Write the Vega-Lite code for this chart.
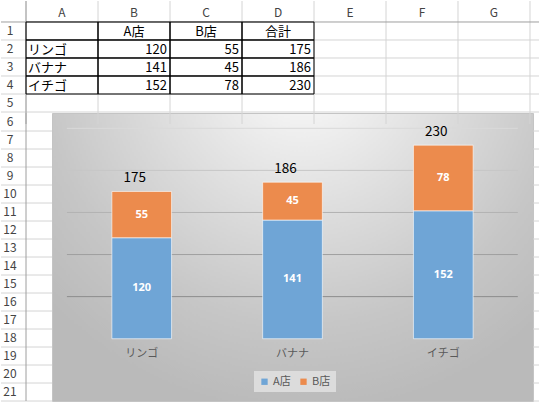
{
  "$schema": "https://vega.github.io/schema/vega-lite/v6.json",
  "padding": 0,
  "spacing": 0,
  "bounds": "flush",
  "datasets": {
    "sales": [
      {"fruit": "リンゴ", "store": "A店", "v": 120},
      {"fruit": "リンゴ", "store": "B店", "v": 55},
      {"fruit": "バナナ", "store": "A店", "v": 141},
      {"fruit": "バナナ", "store": "B店", "v": 45},
      {"fruit": "イチゴ", "store": "A店", "v": 152},
      {"fruit": "イチゴ", "store": "B店", "v": 78}
    ],
    "grid": [{"v": 50}, {"v": 100}, {"v": 150}, {"v": 200}, {"v": 250}],
    "cells": [
      {"row": 1, "col": "A", "text": ""},
      {"row": 1, "col": "B", "text": "A店"},
      {"row": 1, "col": "C", "text": "B店"},
      {"row": 1, "col": "D", "text": "合計"},
      {"row": 2, "col": "A", "text": "リンゴ"},
      {"row": 2, "col": "B", "text": "120"},
      {"row": 2, "col": "C", "text": "55"},
      {"row": 2, "col": "D", "text": "175"},
      {"row": 3, "col": "A", "text": "バナナ"},
      {"row": 3, "col": "B", "text": "141"},
      {"row": 3, "col": "C", "text": "45"},
      {"row": 3, "col": "D", "text": "186"},
      {"row": 4, "col": "A", "text": "イチゴ"},
      {"row": 4, "col": "B", "text": "152"},
      {"row": 4, "col": "C", "text": "78"},
      {"row": 4, "col": "D", "text": "230"}
    ],
    "cols": [
      {"col": "A"}, {"col": "B"}, {"col": "C"}, {"col": "D"},
      {"col": "E"}, {"col": "F"}, {"col": "G"}
    ],
    "rowsTop": [{"row": 0}, {"row": 1}, {"row": 2}, {"row": 3}, {"row": 4}, {"row": 5}],
    "rowsMid": [
      {"row": 6}, {"row": 7}, {"row": 8}, {"row": 9}, {"row": 10}, {"row": 11},
      {"row": 12}, {"row": 13}, {"row": 14}, {"row": 15}, {"row": 16}, {"row": 17},
      {"row": 18}, {"row": 19}, {"row": 20}, {"row": 21}
    ]
  },
  "vconcat": [
    {
      "width": 539,
      "height": 112,
      "layer": [
        {
          "data": {"name": "cols"},
          "mark": {"type": "rule", "color": "#d4d4d4"},
          "encoding": {
            "x": {
              "field": "col", "type": "nominal", "bandPosition": 0,
              "scale": {"type": "band", "domain": ["A", "B", "C", "D", "E", "F", "G"], "paddingInner": 0, "paddingOuter": 0.24306, "align": 0.714286}
            }
          }
        },
        {
          "data": {"name": "cols"},
          "transform": [{"filter": "datum.col == 'G'"}],
          "mark": {"type": "rule", "color": "#d4d4d4"},
          "encoding": {"x": {"field": "col", "type": "nominal", "bandPosition": 1}}
        },
        {
          "data": {"name": "rowsTop"},
          "transform": [{"filter": "datum.row > 0"}],
          "mark": {"type": "rule", "color": "#d4d4d4"},
          "encoding": {
            "y": {
              "field": "row", "type": "ordinal", "bandPosition": 1,
              "scale": {"type": "band", "domain": [0, 1, 2, 3, 4, 5], "paddingInner": 0, "paddingOuter": 0.1111, "align": 0.75}
            }
          }
        },
        {
          "data": {"name": "rowsTop"},
          "transform": [{"filter": "datum.row == 0"}],
          "mark": {"type": "rule", "color": "#9e9e9e"},
          "encoding": {"y": {"field": "row", "type": "ordinal", "bandPosition": 1}}
        },
        {
          "data": {"name": "cols"},
          "transform": [{"filter": "datum.col == 'A'"}],
          "mark": {"type": "rule", "color": "#9e9e9e"},
          "encoding": {"x": {"field": "col", "type": "nominal", "bandPosition": 0}}
        },
        {
          "data": {"name": "cols"},
          "mark": {"type": "text", "font": "Noto Sans CJK JP", "fontSize": 12, "color": "#444444"},
          "encoding": {
            "x": {"field": "col", "type": "nominal"},
            "y": {"datum": 0, "type": "ordinal"},
            "text": {"field": "col"}
          }
        },
        {
          "data": {"name": "rowsTop"},
          "transform": [{"filter": "datum.row > 0"}],
          "mark": {"type": "text", "font": "Noto Sans CJK JP", "fontSize": 12, "color": "#444444", "dx": -52},
          "encoding": {
            "x": {"datum": "A", "type": "nominal"},
            "y": {"field": "row", "type": "ordinal"},
            "text": {"field": "row"}
          }
        },
        {
          "data": {"name": "cells"},
          "mark": {"type": "rect", "fill": null, "stroke": "#000000", "strokeWidth": 1},
          "encoding": {
            "x": {"field": "col", "type": "nominal"},
            "y": {"field": "row", "type": "ordinal"}
          }
        },
        {
          "data": {"name": "cells"},
          "transform": [{"filter": "datum.row == 1"}],
          "mark": {"type": "text", "font": "Noto Sans CJK JP", "fontSize": 13, "color": "#000000", "dy": 1},
          "encoding": {
            "x": {"field": "col", "type": "nominal"},
            "y": {"field": "row", "type": "ordinal"},
            "text": {"field": "text"}
          }
        },
        {
          "data": {"name": "cells"},
          "transform": [{"filter": "datum.row > 1 && datum.col == 'A'"}],
          "mark": {"type": "text", "font": "Noto Sans CJK JP", "fontSize": 13, "color": "#000000", "align": "left", "dx": 2, "dy": 1},
          "encoding": {
            "x": {"field": "col", "type": "nominal", "bandPosition": 0},
            "y": {"field": "row", "type": "ordinal"},
            "text": {"field": "text"}
          }
        },
        {
          "data": {"name": "cells"},
          "transform": [{"filter": "datum.row > 1 && datum.col != 'A'"}],
          "mark": {"type": "text", "font": "Noto Sans CJK JP", "fontSize": 13, "color": "#000000", "align": "right", "dx": -3, "dy": 1},
          "encoding": {
            "x": {"field": "col", "type": "nominal", "bandPosition": 1},
            "y": {"field": "row", "type": "ordinal"},
            "text": {"field": "text"}
          }
        }
      ]
    },
    {
      "spacing": 0,
      "bounds": "flush",
      "hconcat": [
        {
          "width": 51,
          "height": 288,
          "layer": [
            {
              "data": {"name": "rowsMid"},
              "mark": {"type": "rule", "color": "#d4d4d4"},
              "encoding": {
                "y": {
                  "field": "row", "type": "ordinal", "bandPosition": 1,
                  "scale": {"type": "band", "paddingInner": 0, "paddingOuter": 0}
                }
              }
            },
            {
              "data": {"name": "cols"},
              "transform": [{"filter": "datum.col == 'A'"}],
              "mark": {"type": "rule", "color": "#9e9e9e"},
              "encoding": {
                "x": {
                  "field": "col", "type": "nominal", "bandPosition": 0,
                  "scale": {"type": "band", "domain": ["A"], "paddingInner": 0, "paddingOuter": 0.48077, "align": 1}
                }
              }
            },
            {
              "data": {"name": "rowsMid"},
              "mark": {"type": "text", "font": "Noto Sans CJK JP", "fontSize": 12, "color": "#444444", "dx": -29},
              "encoding": {
                "x": {"datum": "A", "type": "nominal"},
                "y": {"field": "row", "type": "ordinal"},
                "text": {"field": "row"}
              }
            }
          ]
        },
        {
          "width": 481,
          "height": 288,
          "view": {
            "stroke": "#c4c4c4",
            "fill": {
              "gradient": "radial",
              "x1": 0.52, "y1": 0.1, "r1": 0,
              "x2": 0.52, "y2": 0.1, "r2": 0.72,
              "stops": [
                {"offset": 0, "color": "#ffffff"},
                {"offset": 0.2, "color": "#eeeeee"},
                {"offset": 0.5, "color": "#d8d8d8"},
                {"offset": 0.75, "color": "#c6c6c6"},
                {"offset": 1, "color": "#bababa"}
              ]
            }
          },
          "layer": [
            {
              "data": {"name": "grid"},
              "mark": {"type": "rule", "xOffset": -74.8, "x2Offset": 74.5, "strokeWidth": 1},
              "encoding": {
                "x": {"datum": "リンゴ", "type": "nominal"},
                "x2": {"datum": "イチゴ"},
                "y": {"field": "v", "type": "quantitative"},
                "stroke": {
                  "field": "v", "type": "quantitative",
                  "scale": {"range": ["#8c8c8c", "#dadada"]},
                  "legend": null
                }
              }
            },
            {
              "data": {"name": "sales"},
              "mark": {"type": "bar", "stroke": "#ffffff", "strokeOpacity": 0.6, "strokeWidth": 1},
              "encoding": {
                "x": {
                  "field": "fruit", "type": "nominal",
                  "scale": {"type": "band", "domain": ["リンゴ", "バナナ", "イチゴ"], "paddingInner": 0.604, "paddingOuter": 0.397}
                },
                "y": {
                  "field": "v", "type": "quantitative", "stack": "zero",
                  "scale": {"domain": [-74, 268.2], "nice": false, "zero": false}
                },
                "order": {"field": "store", "sort": "ascending"},
                "color": {
                  "field": "store", "type": "nominal",
                  "scale": {"domain": ["A店", "B店"], "range": ["#6fa5d6", "#ec8b4d"]},
                  "legend": {
                    "orient": "none", "legendX": 253, "legendY": 370,
                    "direction": "horizontal", "title": null,
                    "symbolType": "square", "symbolSize": 40, "symbolStrokeWidth": 0,
                    "labelFont": "Noto Sans CJK JP", "labelFontSize": 11, "labelColor": "#595959",
                    "labelOffset": 3, "columnPadding": 7,
                    "fillColor": "#dcdcdc", "padding": 5
                  }
                }
              }
            },
            {
              "data": {"name": "sales"},
              "mark": {"type": "text", "font": "Noto Sans", "fontWeight": "bold", "fontSize": 11, "color": "#ffffff", "baseline": "middle"},
              "encoding": {
                "x": {"field": "fruit", "type": "nominal"},
                "y": {"field": "v", "type": "quantitative", "stack": "zero", "bandPosition": 0.5},
                "detail": {"field": "store"},
                "order": {"field": "store", "sort": "ascending"},
                "text": {"field": "v"}
              }
            },
            {
              "data": {"name": "sales"},
              "transform": [{"aggregate": [{"op": "sum", "field": "v", "as": "total"}], "groupby": ["fruit"]}],
              "mark": {"type": "text", "font": "Noto Sans CJK JP", "fontSize": 13.5, "color": "#000000", "baseline": "alphabetic", "dx": -7, "dy": -9},
              "encoding": {
                "x": {"field": "fruit", "type": "nominal"},
                "y": {"field": "total", "type": "quantitative"},
                "text": {"field": "total"}
              }
            },
            {
              "data": {"name": "sales"},
              "transform": [{"aggregate": [{"op": "sum", "field": "v", "as": "total"}], "groupby": ["fruit"]}],
              "mark": {"type": "text", "font": "Noto Sans CJK JP", "fontSize": 11, "color": "#595959", "baseline": "middle", "dy": 15},
              "encoding": {
                "x": {"field": "fruit", "type": "nominal"},
                "y": {"datum": 0, "type": "quantitative"},
                "text": {"field": "fruit"}
              }
            },
            {
              "mark": {"type": "rule", "color": "#404040", "strokeWidth": 2, "xOffset": -74.8, "x2Offset": 74.5},
              "encoding": {
                "x": {"datum": "リンゴ", "type": "nominal"},
                "x2": {"datum": "イチゴ"},
                "y": {"datum": 0, "type": "quantitative"}
              }
            }
          ]
        },
        {
          "width": 7,
          "height": 288,
          "data": {"name": "rowsMid"},
          "mark": {"type": "rule", "color": "#d4d4d4"},
          "encoding": {
            "y": {
              "field": "row", "type": "ordinal", "bandPosition": 1,
              "scale": {"type": "band", "paddingInner": 0, "paddingOuter": 0}
            }
          }
        }
      ]
    },
    {
      "width": 539,
      "height": 11,
      "layer": [
        {
          "data": {"name": "cols"},
          "mark": {"type": "rule", "color": "#d4d4d4"},
          "encoding": {
            "x": {
              "field": "col", "type": "nominal", "bandPosition": 0,
              "scale": {"type": "band", "domain": ["A", "B", "C", "D", "E", "F", "G"], "paddingInner": 0, "paddingOuter": 0.24306, "align": 0.714286}
            }
          }
        },
        {
          "data": {"name": "cols"},
          "transform": [{"filter": "datum.col == 'G'"}],
          "mark": {"type": "rule", "color": "#d4d4d4"},
          "encoding": {"x": {"field": "col", "type": "nominal", "bandPosition": 1}}
        },
        {
          "data": {"name": "cols"},
          "transform": [{"filter": "datum.col == 'A'"}],
          "mark": {"type": "rule", "color": "#9e9e9e"},
          "encoding": {"x": {"field": "col", "type": "nominal", "bandPosition": 0}}
        }
      ]
    }
  ],
  "config": {
    "axis": {"disable": true},
    "view": {"stroke": null},
    "concat": {"spacing": 0}
  }
}
